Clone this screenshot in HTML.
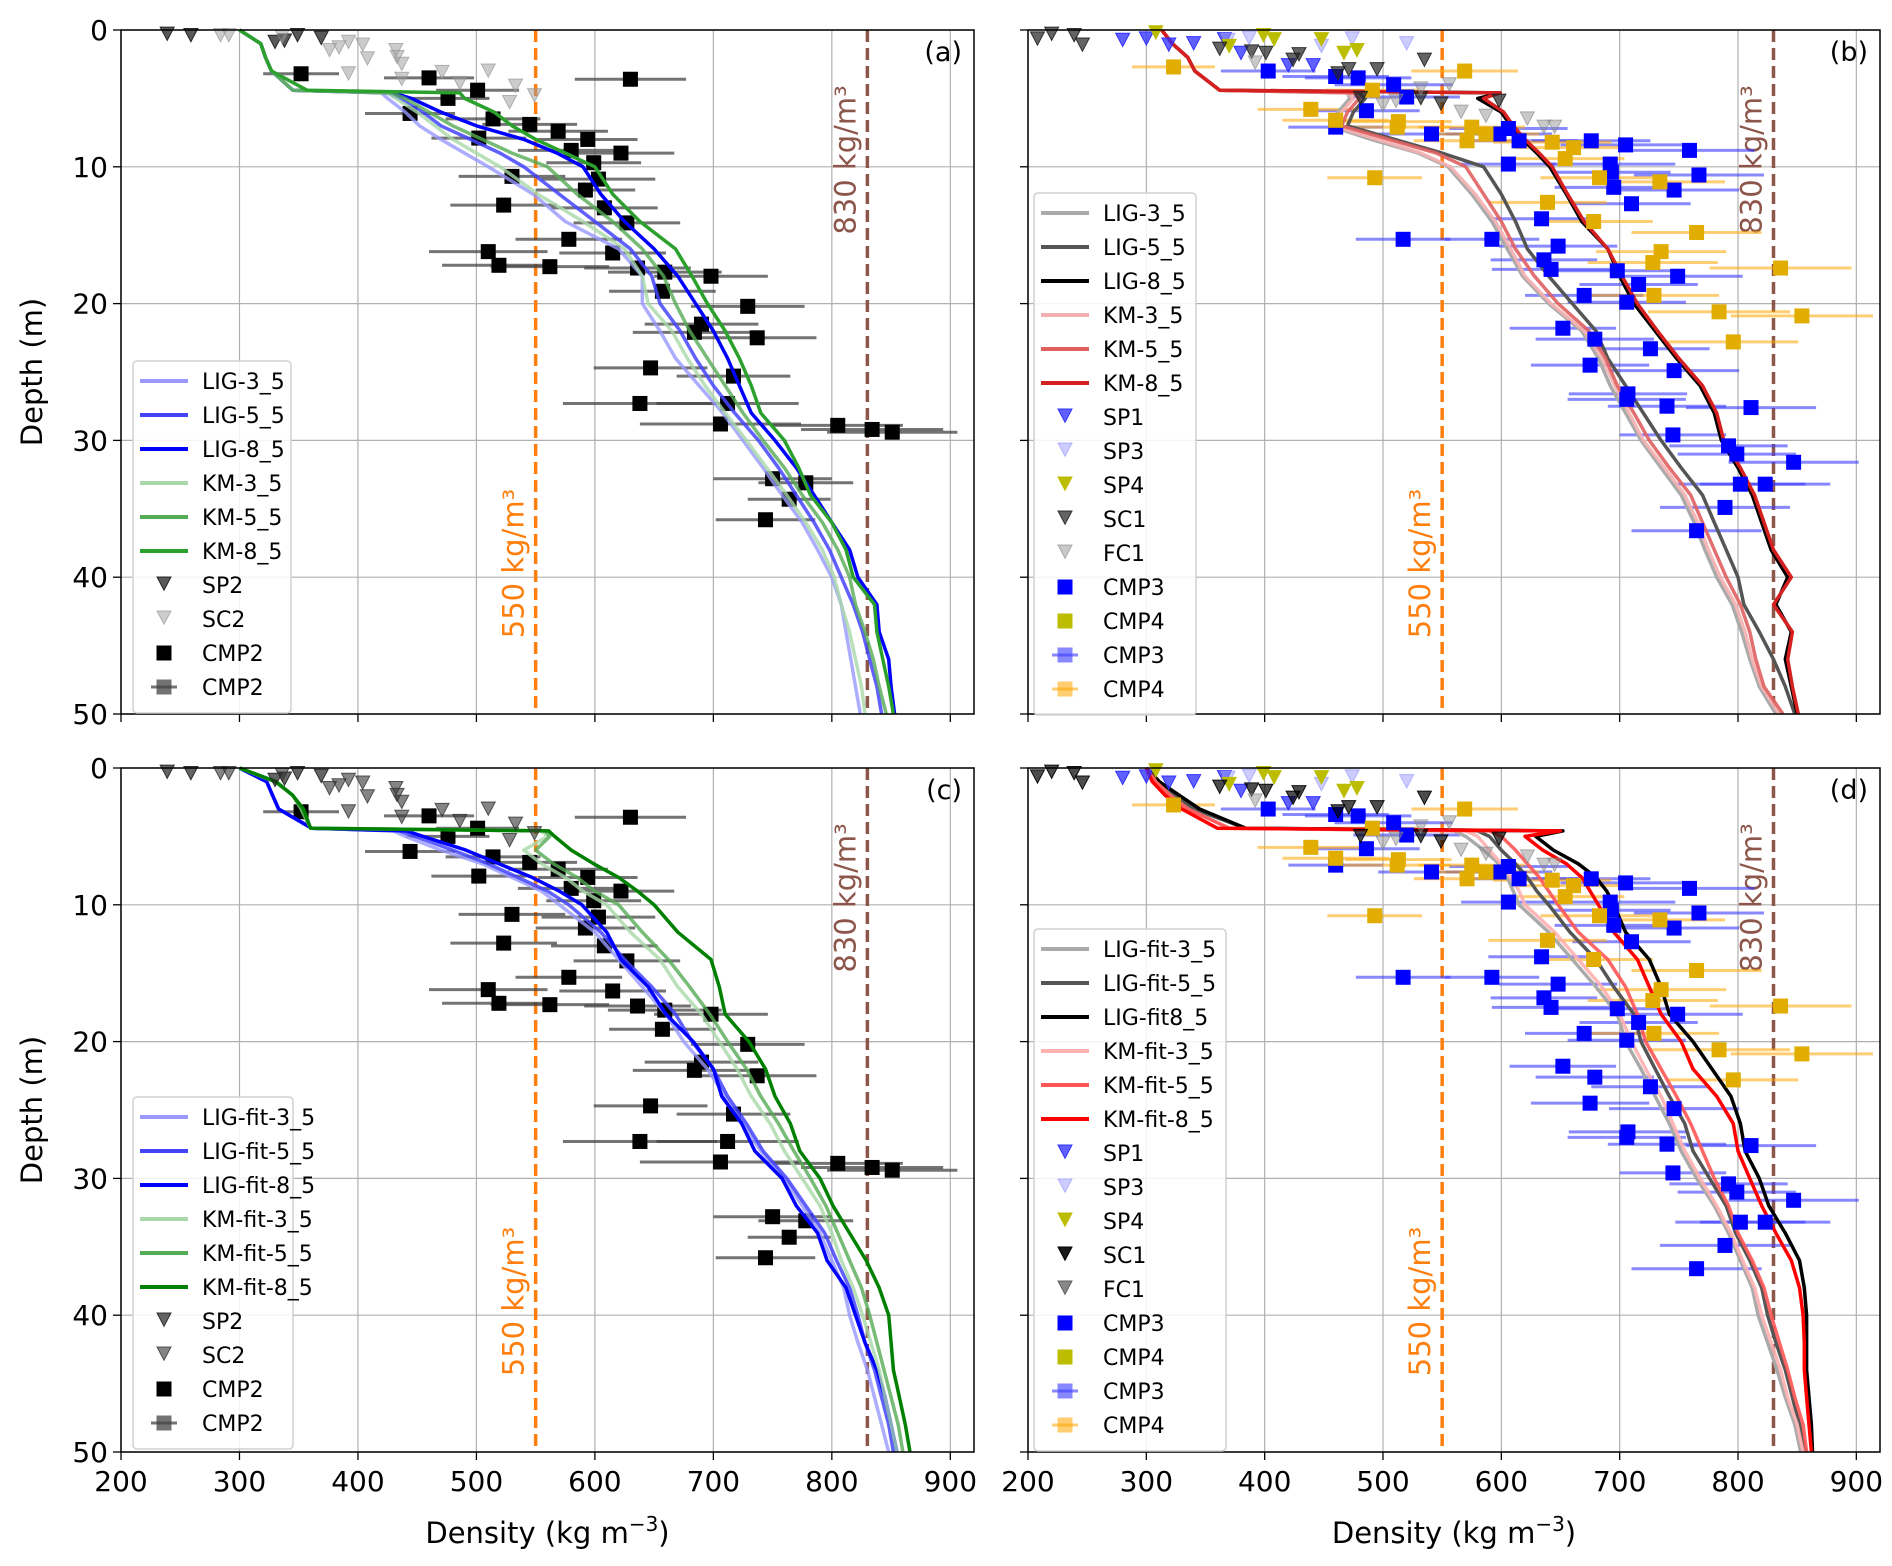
<!DOCTYPE html>
<html><head><meta charset="utf-8">
<style>
html,body{margin:0;padding:0;background:#fff;}
svg{display:block;font-family:"DejaVu Sans","Liberation Sans",sans-serif;}
</style></head>
<body>
<svg id="chart" width="1892" height="1566" viewBox="0 0 1892 1566" xmlns="http://www.w3.org/2000/svg"></svg>
<script>
// ---- shared depth grid (m) ----
const depths = [0,1,2,3,4.4,4.6,5,6,7,8,9,10,12,14,16,18,20,22,24,26,28,30,32,34,36,38,40,42,44,46,48,50];
const xTicks = [200,300,400,500,600,700,800,900];
const yTicks = [0,10,20,30,40,50];

// ---- panel (a) ----
const aLIG3 = [300,318,322,327,345,420,425,440,452,470,490,510,548,575,620,640,640,655,668,688,708,725,742,758,775,788,800,808,812,816,820,824];
const aLIG5 = [300,318,322,327,345,425,435,455,470,495,520,540,570,600,630,648,655,672,685,700,718,738,755,770,785,798,808,818,826,832,838,842];
const aLIG8 = [300,318,322,327,345,430,445,470,500,540,568,590,605,625,650,670,685,700,712,722,732,752,770,785,800,815,822,838,840,848,850,853];
const aKM3 = [300,318,322,327,345,425,432,450,465,480,500,520,552,590,625,640,645,665,678,693,710,728,745,762,778,792,802,808,815,820,825,828];
const aKM5 = [300,318,322,327,345,428,440,460,480,505,530,560,585,615,640,658,668,680,695,710,725,742,760,775,792,805,815,820,828,835,840,846];
const aKM8 = [300,318,322,327,357,486,490,515,530,550,575,600,615,638,668,682,695,710,722,732,740,760,772,782,800,812,818,836,838,843,848,852];
// ---- panel (b) ----
const bLIG3 = [313,322,335,341,362,470,472,462,455,490,530,555,575,592,605,618,640,668,682,692,705,718,735,752,763,772,782,795,803,810,818,832];
const bLIG5 = [313,322,335,341,362,480,485,475,470,510,550,585,600,612,622,640,660,680,690,705,720,735,752,770,780,790,800,805,818,830,840,848];
const bLIG8 = [313,322,335,341,362,599,580,600,608,618,630,641,655,668,690,700,712,730,748,768,780,786,800,812,820,828,842,832,845,840,845,850];
const bKM3 = [313,322,335,341,362,470,475,465,458,495,532,557,578,595,608,620,642,670,685,696,708,720,738,755,766,775,785,798,806,812,820,835];
const bKM5 = [313,322,335,341,362,475,480,470,465,505,545,570,585,600,612,628,648,674,688,698,712,725,742,760,770,780,790,802,810,815,822,838];
const bKM8 = [313,322,335,341,362,599,585,602,610,620,632,643,656,670,690,702,715,732,750,770,782,788,802,814,822,830,845,830,846,842,846,851];
// ---- panel (c) ----
const cLIG3 = [300,323,328,333,361,430,440,470,505,530,555,570,600,620,640,660,675,695,710,725,740,760,775,790,800,810,815,822,830,836,842,848];
const cLIG5 = [300,323,328,333,361,435,448,480,510,535,560,578,605,625,648,668,682,700,712,728,742,762,778,794,804,815,822,828,836,842,848,852];
const cLIG8 = [300,323,328,333,361,441,455,491,519,547,570,589,610,622,645,660,683,700,707,724,735,758,770,788,796,812,820,828,838,845,850,855];
const cKM3 = [300,330,345,352,360,555,560,540,555,575,590,610,630,655,670,690,705,720,732,748,760,775,790,800,808,818,826,833,840,845,850,855];
const cKM5 = [300,330,345,352,360,558,562,550,565,585,600,620,640,662,680,697,712,728,740,755,768,782,795,805,815,825,832,838,844,850,856,860];
const cKM8 = [300,331,345,354,360,561,566,580,599,620,636,650,670,698,705,710,730,744,752,765,773,790,801,815,829,840,848,850,852,857,862,866];
// ---- panel (d) ----
const dLIG3 = [300,311,325,340,384,560,570,585,598,605,610,615,640,660,680,698,705,718,730,742,752,765,780,792,802,812,817,825,833,840,848,853];
const dLIG5 = [300,311,325,340,384,580,590,600,612,622,630,640,658,680,695,712,718,730,742,755,762,776,790,798,810,820,825,832,840,846,852,857];
const dLIG8 = [300,311,328,345,384,652,629,644,665,680,689,695,705,725,735,742,762,778,794,802,806,818,826,840,852,856,858,858,858,860,862,863];
const dKM3 = [300,308,320,335,370,570,580,590,600,608,615,620,645,665,685,700,710,722,735,745,755,768,782,794,804,814,820,828,836,842,850,855];
const dKM5 = [300,308,320,335,370,590,600,612,622,632,640,648,665,690,705,715,722,735,748,760,770,780,792,800,812,822,828,835,842,848,855,858];
const dKM8 = [300,305,316,330,360,650,620,635,655,668,675,682,695,715,725,735,752,762,782,796,800,810,820,832,845,852,855,856,856,858,860,862];

// ---- observations, site 2 (a, c) ----
const cmp2Dens = [352,460,630,501,476,444,514,545,569,594,580,622,599,502,530,603,592,608,523,627,578,510,615,519,562,636,659,698,657,729,690,684,737,647,717,638,712,706,805,834,851,750,778,764,744];
const cmp2Depth = [3.2,3.5,3.6,4.4,5.0,6.1,6.5,6.9,7.4,8.0,8.8,9.0,9.7,7.9,10.7,10.9,11.7,13.0,12.8,14.1,15.3,16.2,16.3,17.2,17.3,17.4,17.7,18.0,19.1,20.2,21.5,22.1,22.5,24.7,25.3,27.3,27.3,28.8,28.9,29.2,29.4,32.8,33.1,34.3,35.8];
const cmp2Err = [32,38,47,35,35,38,40,40,42,42,45,45,40,40,45,48,42,45,45,45,45,50,45,48,50,45,48,48,45,48,48,52,50,48,48,65,60,68,55,60,55,50,40,35,42];
const sp2Dens = [239,259,330,338,349,369];
const sp2Depth = [0.3,0.4,0.9,0.8,0.4,0.6];
const sc2Dens = [284,291,336,376,384,392,404,408,432,433,437,392,437,471,486,510,528,533,549];
const sc2Depth = [0.4,0.4,0.5,1.5,1.3,0.9,1.1,2.1,1.5,2.0,2.5,3.2,3.6,3.1,3.9,3.0,5.3,4.1,4.8];
// ---- observations, site 1 (b, d) ----
const sp1Dens = [280,300,319,340,366,380,420,441];
const sp1Depth = [0.75,0.65,1.1,1.0,0.7,1.7,2.6,2.6];
const sp3Dens = [369,387,448,474,520];
const sp3Depth = [0.75,0.6,1.2,0.65,1.0];
const sp4Dens = [308,370,399,408,448,467,478];
const sp4Depth = [0.2,1.2,0.4,0.7,0.7,1.7,1.5];
const sc1Dens = [208,220,239,246,362,389,401,424,429,462,471,495,535,598,532,549,481];
const sc1Depth = [0.65,0.3,0.4,1.1,1.4,1.6,1.7,2.2,1.8,3.2,2.9,2.9,2.2,5.2,5.0,5.4,5.0];
const fc1Dens = [392,500,511,556,566,587,622,636,645,532];
const fc1Depth = [2.4,5.5,5.2,4.0,6.0,6.3,6.5,7.1,7.1,4.3];
const cmp3Dens = [403,460,479,509,520,460,486,541,606,598,615,676,705,759,606,692,693,767,695,746,710,634,517,592,648,636,642,698,749,716,670,706,652,679,726,675,746,707,706,740,811,745,792,799,847,802,823,789,765];
const cmp3Depth = [3.0,3.4,3.5,4.0,4.9,7.1,5.9,7.6,7.2,7.6,8.1,8.1,8.4,8.8,9.8,9.8,10.4,10.6,11.5,11.7,12.7,13.8,15.3,15.3,15.8,16.8,17.5,17.6,18.0,18.6,19.4,19.9,21.8,22.6,23.3,24.5,24.9,26.6,27.0,27.5,27.6,29.6,30.4,31.0,31.6,33.2,33.2,34.9,36.6];
const cmp3Err = [40,45,45,50,45,40,45,45,50,45,50,50,55,55,40,55,50,55,50,55,50,45,40,40,50,45,50,50,55,50,50,50,45,50,50,50,55,50,50,50,55,45,50,50,55,55,55,55,55];
const cmp4Dens = [323,569,491,439,460,513,512,575,587,571,643,661,654,493,683,734,639,678,765,735,728,836,729,784,854,796];
const cmp4Depth = [2.7,3.0,4.4,5.8,6.6,6.7,7.1,7.1,7.6,8.1,8.2,8.6,9.4,10.8,10.8,11.1,12.6,14.0,14.8,16.2,17.0,17.4,19.4,20.6,20.9,22.8];
const cmp4Err = [35,45,40,45,45,45,45,45,45,45,50,50,50,40,50,55,50,50,55,55,55,60,55,60,60,55];

const NS = "http://www.w3.org/2000/svg";
const svg = document.getElementById("chart");
function mk(tag, attrs, parent){const e=document.createElementNS(NS,tag);for(const k in attrs)e.setAttribute(k,attrs[k]);(parent||svg).appendChild(e);return e;}

const panels = {
  a:{x0:121,x1:974,y0:30,y1:714},
  b:{x0:1028,x1:1880,y0:30,y1:714},
  c:{x0:121,x1:974,y0:768,y1:1452},
  d:{x0:1028,x1:1880,y0:768,y1:1452}
};
function sx(p,v){return p.x0+(v-200)/720*(p.x1-p.x0);}
function sy(p,z){return p.y0+z/50*(p.y1-p.y0);}

function drawLine(g,p,vals,color,w,op,name){
  const pts=depths.map((z,i)=>sx(p,vals[i]).toFixed(1)+","+sy(p,z).toFixed(1)).join(" ");
  const e=mk("polyline",{points:pts,fill:"none",stroke:color,"stroke-width":w,"stroke-opacity":op,"stroke-linejoin":"round"},g);
  
  
}
function tri(g,cx,cy,fill,op,name){
  const s=7;
  const e=mk("polygon",{points:`${cx-s},${cy-s} ${cx+s},${cy-s} ${cx},${cy+s*0.9}`,fill:fill,"fill-opacity":op,stroke:fill,"stroke-opacity":Math.min(1,op+0.2),"stroke-width":1},g);
  
  
}
function sq(g,cx,cy,fill,op,name){
  const e=mk("rect",{x:cx-7.5,y:cy-7.5,width:15,height:15,fill:fill,"fill-opacity":op},g);
  
  
}
function errbar(g,p,v,z,err,color,op,name){
  const e=mk("line",{x1:sx(p,v-err),x2:sx(p,v+err),y1:sy(p,z),y2:sy(p,z),stroke:color,"stroke-opacity":op,"stroke-width":3},g);
  
  
}

function drawAxes(key,label,showXLabels,yLabelText){
  const p=panels[key];
  const g=mk("g",{});
  
  
  xTicks.forEach(t=>{const x=sx(p,t);
    const gl=mk("line",{x1:x,x2:x,y1:p.y0,y2:p.y1,stroke:"#b0b0b0","stroke-width":1.2},g);
    
    
    const tk=mk("line",{x1:x,x2:x,y1:p.y1,y2:p.y1+8,stroke:"#000","stroke-width":1.3},g);
    
    
    if(showXLabels){const tl=mk("text",{x:x,y:p.y1+39,"text-anchor":"middle","font-size":28,fill:"#000"},g);tl.textContent=t;
      
      }
  });
  yTicks.forEach(t=>{const y=sy(p,t);
    const gl=mk("line",{x1:p.x0,x2:p.x1,y1:y,y2:y,stroke:"#b0b0b0","stroke-width":1.2},g);
    
    
    const tk=mk("line",{x1:p.x0-8,x2:p.x0,y1:y,y2:y,stroke:"#000","stroke-width":1.3},g);
    
    
    if(yLabelText){const tl=mk("text",{x:p.x0-13,y:y+10,"text-anchor":"end","font-size":28,fill:"#000"},g);tl.textContent=t;
      
      }
  });
  if(yLabelText){const yl=mk("text",{x:0,y:0,transform:`translate(42,${(p.y0+p.y1)/2}) rotate(-90)`,"text-anchor":"middle","font-size":29,fill:"#000"},g);yl.textContent="Depth (m)";
    
    }
  if(showXLabels){const xl=mk("text",{x:(p.x0+p.x1)/2,y:1543,"text-anchor":"middle","font-size":29,fill:"#000"},g);
    xl.innerHTML='Density (kg m<tspan dy="-12" font-size="20">−3</tspan><tspan dy="12">)</tspan>';
    
    }
  const l550=mk("line",{x1:sx(p,550),x2:sx(p,550),y1:p.y0,y2:p.y1,stroke:"#ff7f0e","stroke-width":3.5,"stroke-dasharray":"12,6"},g);
  
  
  const l830=mk("line",{x1:sx(p,830),x2:sx(p,830),y1:p.y0,y2:p.y1,stroke:"#8c564b","stroke-width":3.5,"stroke-dasharray":"12,6"},g);
  
  
  const t550=mk("text",{x:0,y:0,transform:`translate(${sx(p,550)-12},${p.y0+0.78*(p.y1-p.y0)}) rotate(-90)`,"text-anchor":"middle","font-size":29,fill:"#ff7f0e"},g);
  t550.textContent="550 kg/m³";
  
  
  const t830=mk("text",{x:0,y:0,transform:`translate(${sx(p,830)-12},${p.y0+0.19*(p.y1-p.y0)}) rotate(-90)`,"text-anchor":"middle","font-size":29,fill:"#8c564b"},g);
  t830.textContent="830 kg/m³";
  
  
  const pl=mk("text",{x:p.x1-12,y:p.y0+31,"text-anchor":"end","font-size":27,fill:"#000"},g);
  pl.textContent=label;
  
  
  return g;
}
function frame(key){
  const p=panels[key];
  const r=mk("rect",{x:p.x0,y:p.y0,width:p.x1-p.x0,height:p.y1-p.y0,fill:"none",stroke:"#000","stroke-width":1.5});
  
  
}

function legend(key,x,y,w,entries){
  const g=mk("g",{});
  
  
  const h=entries.length*34+12;
  mk("rect",{x:x,y:y,width:w,height:h,rx:4,fill:"#fff","fill-opacity":0.85,stroke:"#d0d0d0","stroke-width":1.5},g);
  entries.forEach((en,i)=>{
    const cy=y+20+i*34;
    const eg=mk("g",{},g);
    
    
    if(en.t==="line"){mk("line",{x1:x+7,x2:x+55,y1:cy,y2:cy,stroke:en.c,"stroke-opacity":en.o||1,"stroke-width":4},eg);}
    else if(en.t==="tri"){tri(eg,x+31,cy-1,en.c,en.o||1,'legend-marker');}
    else if(en.t==="sq"){sq(eg,x+31,cy,en.c,en.o||1,'legend-marker');}
    else if(en.t==="err"){mk("line",{x1:x+18,x2:x+44,y1:cy,y2:cy,stroke:en.c,"stroke-opacity":en.o,"stroke-width":3},eg);sq(eg,x+31,cy,en.c,en.o,'legend-marker');}
    const t=mk("text",{x:x+69,y:cy+8,"font-size":22,fill:"#000"},eg);t.textContent=en.l;
  });
}

const ga=drawAxes("a","(a)",false,true);
const gb=drawAxes("b","(b)",false,false);
const gc=drawAxes("c","(c)",true,true);
const gd=drawAxes("d","(d)",true,false);

function site2(g,p){
  cmp2Dens.forEach((v,i)=>errbar(g,p,v,cmp2Depth[i],cmp2Err[i],"#444",0.75,'cmp2-errorbar'));
  cmp2Dens.forEach((v,i)=>sq(g,sx(p,v),sy(p,cmp2Depth[i]),"#000",1,'cmp2-point'));
}
function site1(g,p){
  cmp3Dens.forEach((v,i)=>errbar(g,p,v,cmp3Depth[i],cmp3Err[i],"#3b3bff",0.6,'cmp3-errorbar'));
  cmp4Dens.forEach((v,i)=>errbar(g,p,v,cmp4Depth[i],cmp4Err[i],"#ffa500",0.55,'cmp4-errorbar'));
}
function site1Marks(g,p,scColor){
  cmp3Dens.forEach((v,i)=>sq(g,sx(p,v),sy(p,cmp3Depth[i]),"#0000ff",1,'cmp3-point'));
  cmp4Dens.forEach((v,i)=>sq(g,sx(p,v),sy(p,cmp4Depth[i]),"#e0ad00",1,'cmp4-point'));
  sp1Dens.forEach((v,i)=>tri(g,sx(p,v),sy(p,sp1Depth[i]),"#2b2bff",0.75,'sp1-point'));
  sp3Dens.forEach((v,i)=>tri(g,sx(p,v),sy(p,sp3Depth[i]),"#9a9aff",0.5,'sp3-point'));
  sp4Dens.forEach((v,i)=>tri(g,sx(p,v),sy(p,sp4Depth[i]),"#bcbd00",1,'sp4-point'));
  sc1Dens.forEach((v,i)=>tri(g,sx(p,v),sy(p,sc1Depth[i]),scColor,0.7,'sc1-point'));
  fc1Dens.forEach((v,i)=>tri(g,sx(p,v),sy(p,fc1Depth[i]),"#888",0.45,'fc1-point'));
}

site2(ga,panels.a);
drawLine(ga,panels.a,aLIG3,"#9999ff",3.5,0.8,"lig-3-5-line");
drawLine(ga,panels.a,aLIG5,"#4444ff",3.5,0.85,"lig-5-5-line");
drawLine(ga,panels.a,aLIG8,"#0000ff",3.5,1,"lig-8-5-line");
drawLine(ga,panels.a,aKM3,"#a8d8a8",3.5,0.8,"km-3-5-line");
drawLine(ga,panels.a,aKM5,"#55aa55",3.5,0.8,"km-5-5-line");
drawLine(ga,panels.a,aKM8,"#2ca02c",3.5,1,"km-8-5-line");
sp2Dens.forEach((v,i)=>tri(ga,sx(panels.a,v),sy(panels.a,sp2Depth[i]),"#222",0.75,'sp2-point'));
sc2Dens.forEach((v,i)=>tri(ga,sx(panels.a,v),sy(panels.a,sc2Depth[i]),"#999",0.5,'sc2-point'));

site2(gc,panels.c);
drawLine(gc,panels.c,cLIG3,"#9999ff",3.5,0.8,"lig-fit-3-5-line");
drawLine(gc,panels.c,cLIG5,"#4444ff",3.5,0.85,"lig-fit-5-5-line");
drawLine(gc,panels.c,cLIG8,"#0000ff",3.5,1,"lig-fit-8-5-line");
drawLine(gc,panels.c,cKM3,"#a8d8a8",3.5,0.8,"km-fit-3-5-line");
drawLine(gc,panels.c,cKM5,"#55aa55",3.5,0.8,"km-fit-5-5-line");
drawLine(gc,panels.c,cKM8,"#008000",3.5,1,"km-fit-8-5-line");
sp2Dens.forEach((v,i)=>tri(gc,sx(panels.c,v),sy(panels.c,sp2Depth[i]),"#222",0.7,'sp2-point'));
sc2Dens.forEach((v,i)=>tri(gc,sx(panels.c,v),sy(panels.c,sc2Depth[i]),"#333",0.6,'sc2-point'));

site1(gb,panels.b);
drawLine(gb,panels.b,bLIG3,"#aaaaaa",3.5,1,"lig-3-5-line");
drawLine(gb,panels.b,bLIG5,"#555555",3.5,1,"lig-5-5-line");
drawLine(gb,panels.b,bLIG8,"#000000",3.5,1,"lig-8-5-line");
drawLine(gb,panels.b,bKM3,"#f4b0b0",3.5,0.9,"km-3-5-line");
drawLine(gb,panels.b,bKM5,"#e06060",3.5,0.9,"km-5-5-line");
drawLine(gb,panels.b,bKM8,"#d62020",3.5,1,"km-8-5-line");
site1Marks(gb,panels.b,"#222");

site1(gd,panels.d);
drawLine(gd,panels.d,dLIG3,"#aaaaaa",3.5,1,"lig-fit-3-5-line");
drawLine(gd,panels.d,dLIG5,"#555555",3.5,1,"lig-fit-5-5-line");
drawLine(gd,panels.d,dLIG8,"#000000",3.5,1,"lig-fit-8-5-line");
drawLine(gd,panels.d,dKM3,"#ffb0b0",3.5,0.9,"km-fit-3-5-line");
drawLine(gd,panels.d,dKM5,"#ff5555",3.5,0.9,"km-fit-5-5-line");
drawLine(gd,panels.d,dKM8,"#ff0000",3.5,1,"km-fit-8-5-line");
site1Marks(gd,panels.d,"#000");

["a","b","c","d"].forEach(frame);

legend("a",133,361,158,[
 {t:"line",c:"#9999ff",l:"LIG-3_5"},{t:"line",c:"#4444ff",l:"LIG-5_5"},{t:"line",c:"#0000ff",l:"LIG-8_5"},
 {t:"line",c:"#a8d8a8",l:"KM-3_5"},{t:"line",c:"#55aa55",l:"KM-5_5"},{t:"line",c:"#2ca02c",l:"KM-8_5"},
 {t:"tri",c:"#222",o:0.75,l:"SP2"},{t:"tri",c:"#999",o:0.5,l:"SC2"},{t:"sq",c:"#000",l:"CMP2"},{t:"err",c:"#444",o:0.75,l:"CMP2"}]);
legend("c",133,1097,160,[
 {t:"line",c:"#9999ff",l:"LIG-fit-3_5"},{t:"line",c:"#4444ff",l:"LIG-fit-5_5"},{t:"line",c:"#0000ff",l:"LIG-fit-8_5"},
 {t:"line",c:"#a8d8a8",l:"KM-fit-3_5"},{t:"line",c:"#55aa55",l:"KM-fit-5_5"},{t:"line",c:"#008000",l:"KM-fit-8_5"},
 {t:"tri",c:"#222",o:0.7,l:"SP2"},{t:"tri",c:"#333",o:0.6,l:"SC2"},{t:"sq",c:"#000",l:"CMP2"},{t:"err",c:"#444",o:0.75,l:"CMP2"}]);
legend("b",1034,193,162,[
 {t:"line",c:"#aaaaaa",l:"LIG-3_5"},{t:"line",c:"#555555",l:"LIG-5_5"},{t:"line",c:"#000",l:"LIG-8_5"},
 {t:"line",c:"#f4b0b0",l:"KM-3_5"},{t:"line",c:"#e06060",l:"KM-5_5"},{t:"line",c:"#d62020",l:"KM-8_5"},
 {t:"tri",c:"#2b2bff",o:0.75,l:"SP1"},{t:"tri",c:"#9a9aff",o:0.5,l:"SP3"},{t:"tri",c:"#bcbd00",l:"SP4"},
 {t:"tri",c:"#222",o:0.7,l:"SC1"},{t:"tri",c:"#888",o:0.45,l:"FC1"},{t:"sq",c:"#0000ff",l:"CMP3"},
 {t:"sq",c:"#bcbd00",l:"CMP4"},{t:"err",c:"#3b3bff",o:0.6,l:"CMP3"},{t:"err",c:"#ffa500",o:0.55,l:"CMP4"}]);
legend("d",1034,929,192,[
 {t:"line",c:"#aaaaaa",l:"LIG-fit-3_5"},{t:"line",c:"#555555",l:"LIG-fit-5_5"},{t:"line",c:"#000",l:"LIG-fit8_5"},
 {t:"line",c:"#ffb0b0",l:"KM-fit-3_5"},{t:"line",c:"#ff5555",l:"KM-fit-5_5"},{t:"line",c:"#ff0000",l:"KM-fit-8_5"},
 {t:"tri",c:"#2b2bff",o:0.75,l:"SP1"},{t:"tri",c:"#9a9aff",o:0.5,l:"SP3"},{t:"tri",c:"#bcbd00",l:"SP4"},
 {t:"tri",c:"#000",o:0.9,l:"SC1"},{t:"tri",c:"#555",o:0.7,l:"FC1"},{t:"sq",c:"#0000ff",l:"CMP3"},
 {t:"sq",c:"#bcbd00",l:"CMP4"},{t:"err",c:"#3b3bff",o:0.6,l:"CMP3"},{t:"err",c:"#ffa500",o:0.55,l:"CMP4"}]);
</script>
</body></html>
